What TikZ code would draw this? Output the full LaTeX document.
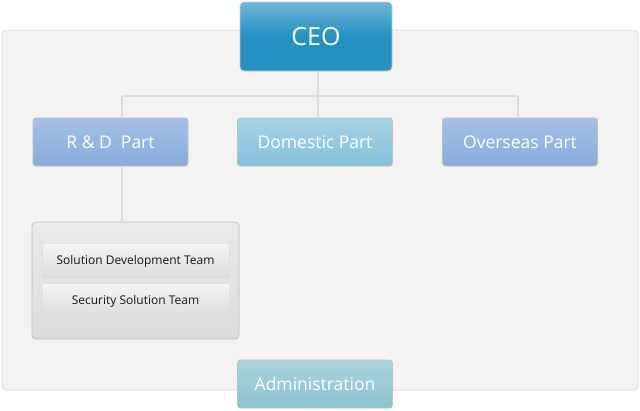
\documentclass[tikz,border=0pt]{standalone}
\usepackage{fontspec}
\setmainfont{Open Sans}
\usepackage{xcolor}
\usepackage{tikz}
\definecolor{panelgray}{HTML}{F3F3F3}
\definecolor{panelline}{HTML}{E2E2E2}
\definecolor{linkgray}{HTML}{DCDCDC}
\definecolor{ceotop}{HTML}{6FB6D6}
\definecolor{ceoblue}{HTML}{2391C1}
\definecolor{partblue}{HTML}{87ACDD}
\definecolor{partbluetop}{HTML}{A4C1E6}
\definecolor{partcyan}{HTML}{84C2DC}
\definecolor{partcyantop}{HTML}{A6D3E6}
\definecolor{admincyan}{HTML}{8BC3CF}
\definecolor{admincyantop}{HTML}{A9D4DE}
\definecolor{teamgray}{HTML}{DCDCDC}
\definecolor{teamline}{HTML}{BDBDBD}

\tikzset{
  partbox/.style={draw=black!25, line width=0.8pt, rounded corners=3pt,
    minimum width=155pt, minimum height=48pt, inner sep=0pt,
    text=white, font=\fontsize{17.5}{20}\selectfont},
  teambox/.style={draw=black!12, line width=0.8pt,
    top color=white!96!black, bottom color=black!14,
    minimum width=187pt, minimum height=35pt, inner sep=0pt,
    text=black!92, font=\fontsize{12}{14}\selectfont},
  link/.style={draw=linkgray, line width=2pt}
}

\begin{document}
\begin{tikzpicture}[x=1pt, y=-1pt]
  \useasboundingbox (0,0) rectangle (640,410);
  % grey panel behind the chart
  \filldraw[fill=panelgray, draw=panelline, line width=1pt, rounded corners=4pt]
    (2,30) rectangle (638,390);

  \node[partbox, draw=black!20, rounded corners=4pt,
    top color=ceotop, bottom color=ceoblue, middle color=ceoblue,
    minimum width=152pt, minimum height=69pt,
    font=\fontsize{25}{28}\selectfont] (ceo) at (316,36.5) {CEO};

  \node[partbox, top color=partbluetop, bottom color=partblue] (rd) at (110.5,142) {R \& D~~Part};
  \node[partbox, top color=partcyantop, bottom color=partcyan] (dom) at (315,142) {Domestic Part};
  \node[partbox, top color=partbluetop, bottom color=partblue] (over) at (520,142) {Overseas Part};

  \node[draw=teamline, line width=0.8pt, rounded corners=4pt,
    top color=white!92!black, bottom color=teamgray,
    minimum width=207pt, minimum height=117pt, inner sep=0pt] (team) at (135.5,280.5) {};
  \node[teambox] (sdt) at (135.5,261) {Solution Development Team};
  \node[teambox] (sst) at (135.5,301) {Security Solution Team};

  \node[partbox, top color=admincyantop, bottom color=admincyan] (admin) at (315,384) {Administration};

  % connectors
  \coordinate (busl) at (122,96);
  \coordinate (busm) at (318,96);
  \coordinate (busr) at (518,96);
  \draw[link] (ceo.south -| busm) -- (busm);
  \draw[link] (busl) -- (busr);
  \draw[link] (busl) -- (busl |- rd.north);
  \draw[link] (busm) -- (busm |- dom.north);
  \draw[link] (busr) -- (busr |- over.north);
  \draw[link] (busl |- rd.south) -- (busl |- team.north);
\end{tikzpicture}
\end{document}
